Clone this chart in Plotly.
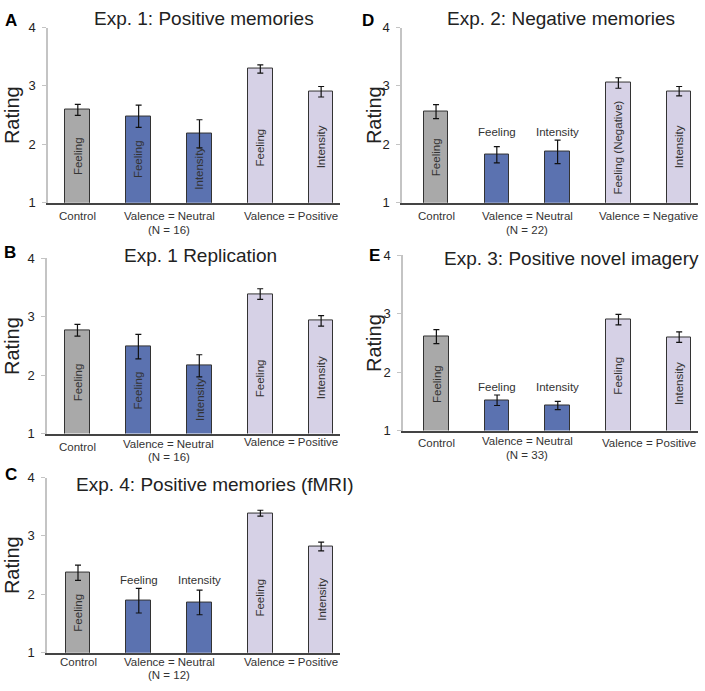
import plotly.graph_objects as go

# ---------------- data ----------------
bar_keys = ["Control", "Neutral Feeling", "Neutral Intensity", "Valenced Feeling", "Valenced Intensity"]

A_means = [2.59, 2.48, 2.18, 3.29, 2.90]
A_errs = [0.095, 0.19, 0.24, 0.07, 0.09]
B_means = [2.77, 2.49, 2.16, 3.39, 2.93]
B_errs = [0.10, 0.21, 0.19, 0.09, 0.09]
C_means = [2.37, 1.89, 1.86, 3.39, 2.82]
C_errs = [0.13, 0.21, 0.21, 0.05, 0.075]
D_means = [2.56, 1.82, 1.87, 3.05, 2.91]
D_errs = [0.12, 0.14, 0.20, 0.09, 0.08]
E_means = [2.61, 1.52, 1.43, 2.90, 2.60]
E_errs = [0.12, 0.09, 0.07, 0.09, 0.09]

A_title = "Exp. 1: Positive memories"
B_title = "Exp. 1 Replication"
C_title = "Exp. 4: Positive memories (fMRI)"
D_title = "Exp. 2: Negative memories"
E_title = "Exp. 3: Positive novel imagery"

A_barlabels = ["Feeling", "Feeling", "Intensity", "Feeling", "Intensity"]
D_barlabels = ["Feeling", "Feeling", "Intensity", "Feeling (Negative)", "Intensity"]

pos_groups = ["Control", "Valence = Neutral", "Valence = Positive"]
neg_groups = ["Control", "Valence = Neutral", "Valence = Negative"]

A_n, B_n, C_n, D_n, E_n = "(N = 16)", "(N = 16)", "(N = 12)", "(N = 22)", "(N = 33)"

y_ticks = [1, 2, 3, 4]

# ---------------- styling ----------------
W, H = 705, 691
FONT = "Liberation Sans, Arial, sans-serif"
bar_colors = ["#a9a9a9", "#5b72b0", "#5b72b0", "#d6d1e6", "#d6d1e6"]

def px_x(p):
    return p / W

def px_y(p):
    return 1 - p / H

panels = [
    dict(letter="A", title=A_title, means=A_means, errs=A_errs, labels=A_barlabels, groups=pos_groups, n=A_n,
         above=False, xd=(48, 340), yd=(21, 200), xr=[-0.49, 4.31], tpos=(204, 12), lpos=(11, 14), rx=12,
         goff=(13, 13, 13), noff=27),
    dict(letter="B", title=B_title, means=B_means, errs=B_errs, labels=A_barlabels, groups=pos_groups, n=B_n,
         above=False, xd=(47, 340), yd=(257, 436), xr=[-0.5, 4.31], tpos=(200, 254), lpos=(10, 251), rx=12,
         goff=(13, 10, 8), noff=23),
    dict(letter="C", title=C_title, means=C_means, errs=C_errs, labels=A_barlabels, groups=pos_groups, n=C_n,
         above=True, xd=(47, 340), yd=(481, 660), xr=[-0.51, 4.31], tpos=(215, 488), lpos=(11, 478), rx=12,
         goff=(9, 9, 9), noff=22),
    dict(letter="D", title=D_title, means=D_means, errs=D_errs, labels=D_barlabels, groups=neg_groups, n=D_n,
         above=True, xd=(402, 698), yd=(21, 200), xr=[-0.56, 4.31], tpos=(561, 12), lpos=(368, 14), rx=374,
         goff=(13, 13, 13), noff=27),
    dict(letter="E", title=E_title, means=E_means, errs=E_errs, labels=A_barlabels, groups=pos_groups, n=E_n,
         above=True, xd=(403, 698), yd=(254, 433), xr=[-0.55, 4.31], tpos=(571, 257), lpos=(374, 254), rx=374,
         goff=(12, 10, 12), noff=24),
]

fig = go.Figure()
annotations = []

for i, p in enumerate(panels):
    sfx = "" if i == 0 else str(i + 1)
    xa, ya = "x" + sfx, "y" + sfx
    fig.add_trace(go.Bar(
        x=list(range(len(bar_keys))), y=p["means"],
        xaxis=xa, yaxis=ya,
        width=0.405,
        marker=dict(color=bar_colors, line=dict(color="#333333", width=1)),
        error_y=dict(type="data", array=p["errs"], visible=True, color="#111111", thickness=1.2, width=3),
        hovertext=bar_keys, showlegend=False,
    ))
    fig.update_layout(**{
        "xaxis" + sfx: dict(domain=[px_x(p["xd"][0]), px_x(p["xd"][1])], range=p["xr"], anchor=ya,
                            showline=True, linecolor="#444444", linewidth=1.5, showgrid=False,
                            zeroline=False, showticklabels=False, ticks="", fixedrange=True),
        "yaxis" + sfx: dict(domain=[px_y(p["yd"][1]), px_y(p["yd"][0])], range=[1, 4], anchor=xa,
                            tickvals=y_ticks, showline=True, linecolor="#c4c4c4", linewidth=1.5,
                            showgrid=False, zeroline=False, ticks="outside", ticklen=4,
                            ticklabelstandoff=4,
                            tickcolor="#c4c4c4", tickfont=dict(family=FONT, size=13, color="#222222")),
    })
    neutral_top = max(p["means"][1] + p["errs"][1], p["means"][2] + p["errs"][2])
    for j, (lab, v) in enumerate(zip(p["labels"], p["means"])):
        if p["above"] and j in (1, 2):
            annotations.append(dict(x=j, y=neutral_top + 0.14, xref=xa, yref=ya, text=lab, showarrow=False,
                                    font=dict(family=FONT, size=11.5, color="#333333")))
        else:
            annotations.append(dict(x=j, y=min((1 + v) / 2, 1.95), xref=xa, yref=ya, text=lab, showarrow=False,
                                    textangle=-90, font=dict(family=FONT, size=11.5, color="#333333")))
    for gx, g, off in zip([0, 1.5, 3.5], p["groups"], p["goff"]):
        annotations.append(dict(x=gx, y=0, xref=xa, yref=ya + " domain", text=g, showarrow=False,
                                yanchor="middle", yshift=-off,
                                font=dict(family=FONT, size=11.5, color="#333333")))
    annotations.append(dict(x=1.5, y=0, xref=xa, yref=ya + " domain", text=p["n"], showarrow=False,
                            yanchor="middle", yshift=-p["noff"],
                            font=dict(family=FONT, size=11.5, color="#333333")))
    annotations.append(dict(x=px_x(p["tpos"][0]), y=px_y(p["tpos"][1]), xref="paper", yref="paper",
                            text=p["title"], showarrow=False, xanchor="center", yanchor="middle",
                            font=dict(family=FONT, size=19, color="#222222")))
    annotations.append(dict(x=px_x(p["lpos"][0]), y=px_y(p["lpos"][1]), xref="paper", yref="paper",
                            text="<b>" + p["letter"] + "</b>", showarrow=False, xanchor="center",
                            yanchor="middle", font=dict(family=FONT, size=17, color="#000000")))
    annotations.append(dict(x=px_x(p["rx"]), y=px_y((p["yd"][0] + p["yd"][1]) / 2), xref="paper", yref="paper",
                            text="Rating", showarrow=False, textangle=-90, xanchor="center", yanchor="middle",
                            font=dict(family=FONT, size=20, color="#222222")))

fig.update_layout(width=W, height=H, margin=dict(l=0, r=0, t=0, b=0),
                  paper_bgcolor="white", plot_bgcolor="white",
                  annotations=annotations, bargap=0)

post = (
    "var d=document.getElementById('{plot_id}');"
    "document.documentElement.style.cssText='margin:0;padding:0;overflow:hidden;width:705px;height:691px;';"
    "document.body.style.cssText='margin:0;padding:0;overflow:hidden;width:705px;height:691px;position:relative;';"
    "d.style.position='absolute';d.style.top='0px';d.style.left='0px';"
)
fig.write_html("out.html", config={"displayModeBar": False}, post_script=post)
